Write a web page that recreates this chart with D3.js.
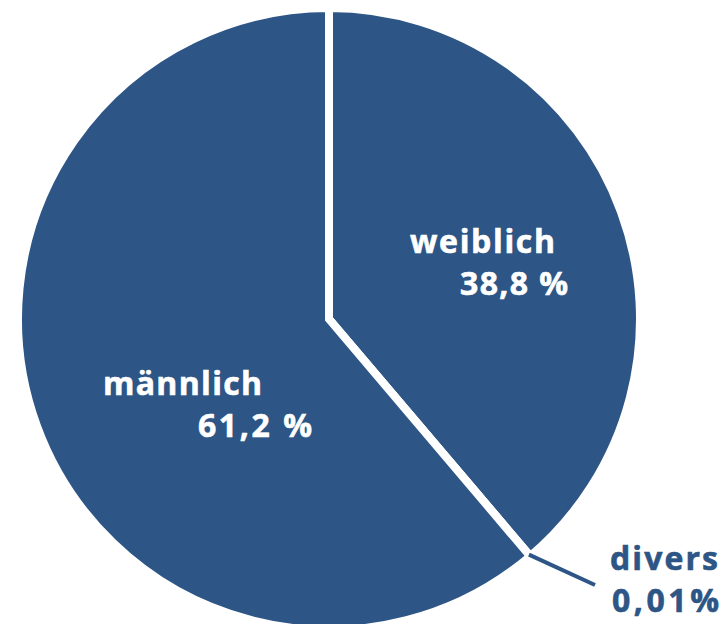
<!DOCTYPE html>
<html>
<head>
<meta charset="utf-8">
<script src="https://cdn.jsdelivr.net/npm/d3@7"></script>
<style>
  html, body { margin: 0; padding: 0; background: #fff; }
  svg { display: block; }
</style>
</head>
<body>
<svg id="chart" width="724" height="624"></svg>
<script>
// ---- data ----
const categories = ["weiblich", "divers", "männlich"];
const values = [38.8, 0.01, 61.2];
const valueLabels = ["38,8 %", "0,01%", "61,2 %"];

// ---- layout / style ----
const W = 724, H = 624;
const cx = 329, cy = 319, R = 307;
const gap = 8;
const blue = "#2d5585";
const fontSize = 32;
const labelLayout = {
  "weiblich": { x: 410, y: 253, x2: 460, y2: 295, w1: 145, w2: 108, color: "#fff" },
  "männlich": { x: 103, y: 395, x2: 198, y2: 437, w1: 159, w2: 114, color: "#fff" },
  "divers":   { x: 610, y: 570, x2: 612, y2: 612, w1: 108, w2: 107, color: blue }
};

const svg = d3.select("#chart");
const g = svg.append("g").attr("transform", `translate(${cx},${cy})`);

const data = categories.map((c, i) => ({ cat: c, value: values[i], label: valueLabels[i] }));
const pie = d3.pie().sort(null).value(d => d.value).startAngle(0).endAngle(2 * Math.PI);
const arcs = pie(data);
const arc = d3.arc().innerRadius(0).outerRadius(R + gap / 2);

g.selectAll("path.slice")
  .data(arcs)
  .join("path")
  .attr("class", "slice")
  .attr("d", arc)
  .attr("fill", blue)
  .attr("stroke", "#fff")
  .attr("stroke-width", gap)
  .attr("stroke-linejoin", "miter");

// leader line for the tiny slice
const small = arcs.find(a => a.data.cat === "divers");
const mid = (small.startAngle + small.endAngle) / 2;
const lay = labelLayout["divers"];
const p0 = [Math.sin(mid) * (R + 2), -Math.cos(mid) * (R + 2)];
const p1 = [lay.x - 15 - cx, lay.y + 15 - cy];
g.append("line")
  .attr("x1", p0[0]).attr("y1", p0[1])
  .attr("x2", p1[0]).attr("y2", p1[1])
  .attr("stroke", blue)
  .attr("stroke-width", 4);

// labels
const tg = svg.append("g")
  .attr("font-family", "'Open Sans', sans-serif")
  .attr("font-weight", 700)
  .attr("font-size", fontSize);
data.forEach(d => {
  const L = labelLayout[d.cat];
  [[d.cat, L.x, L.y, L.w1], [d.label, L.x2, L.y2, L.w2]].forEach(([txt, x, y, w]) => {
    tg.append("text")
      .attr("x", x).attr("y", y)
      .attr("fill", L.color)
      .attr("stroke", L.color)
      .attr("stroke-width", 0.6)
      .attr("textLength", w).attr("lengthAdjust", "spacing")
      .text(txt);
  });
});
</script>
</body>
</html>
